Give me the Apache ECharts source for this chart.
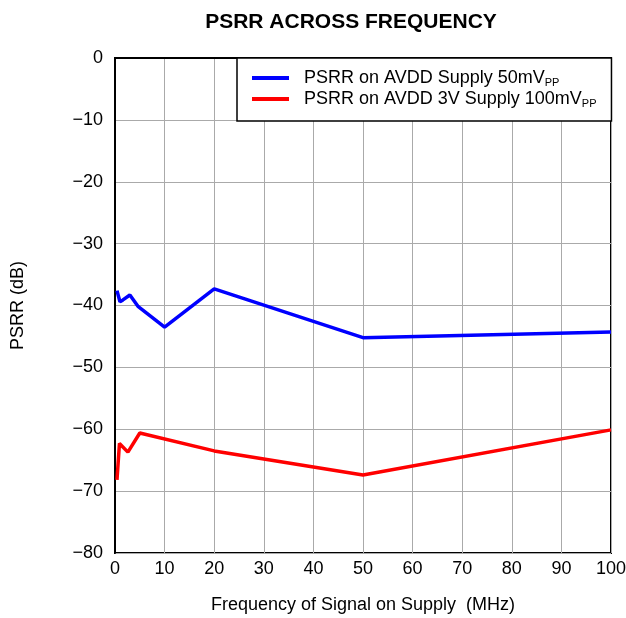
<!DOCTYPE html>
<html><head><meta charset="utf-8">
<script src="https://cdn.jsdelivr.net/npm/echarts@6/dist/echarts.min.js"></script>
<style>html,body{margin:0;padding:0;background:#fff}#c{width:626px;height:618px}</style>
</head><body><div id="c"></div>
<script>
const blueFreq = [0.4, 1.0, 1.6, 3.0, 4.7, 10, 20, 50, 100];
const blueDb   = [-37.6, -39.4, -39.1, -38.3, -40.2, -43.5, -37.3, -45.2, -44.3];
const redFreq  = [0.4, 0.9, 2.6, 5, 20, 50, 100];
const redDb    = [-68.2, -62.3, -63.7, -60.6, -63.5, -67.4, -60.1];
const seriesNames = ['PSRR on AVDD Supply 50mV', 'PSRR on AVDD 3V Supply 100mV'];
const fontFam = 'Liberation Sans, Arial, sans-serif';

const pairs = (xs, ys) => xs.map((x, i) => [x, ys[i]]);
const chart = echarts.init(document.getElementById('c'), null, {renderer: 'canvas'});
chart.setOption({
  animation: false,
  backgroundColor: '#fff',
  textStyle: {fontFamily: fontFam},
  title: {
    text: 'PSRR ACROSS FREQUENCY', left: 346, top: 7, textAlign: 'center',
    textStyle: {fontFamily: fontFam, fontWeight: 'bold', fontSize: 21, color: '#000'}
  },
  grid: {left: 115, right: 15, top: 58, bottom: 65, show: true, borderColor: '#000', borderWidth: 2,
         outerBoundsMode: 'none', containLabel: false},
  legend: {
    orient: 'vertical', left: 237, top: 58,
    backgroundColor: '#fff', borderColor: '#000', borderWidth: 1.5,
    padding: [11, 15, 12, 15], itemGap: 2,
    itemWidth: 37, itemHeight: 4, icon: 'rect',
    data: seriesNames,
    formatter: function (n) { return '{a|' + n + '}{s|PP}'; },
    textStyle: {
      fontFamily: fontFam, fontSize: 18, color: '#000', padding: [0, 0, 0, 10],
      rich: {
        a: {fontFamily: fontFam, fontSize: 18, color: '#000', height: 20},
        s: {fontFamily: fontFam, fontSize: 11, color: '#000', verticalAlign: 'bottom', padding: [8, 0, 0, 0]}
      }
    }
  },
  xAxis: {
    type: 'value', min: 0, max: 100, interval: 10,
    name: 'Frequency of Signal on Supply  (MHz)', nameLocation: 'middle', nameGap: 43,
    nameTextStyle: {fontFamily: fontFam, fontSize: 18, color: '#000'},
    axisLine: {show: true, lineStyle: {color: '#000', width: 2}},
    axisTick: {show: false},
    axisLabel: {fontFamily: fontFam, fontSize: 18, color: '#000', margin: 7},
    splitLine: {show: true, lineStyle: {color: '#aaa', width: 1}}
  },
  yAxis: {
    type: 'value', min: -80, max: 0, interval: 10,
    name: 'PSRR (dB)', nameLocation: 'middle', nameGap: 88, nameRotate: 90,
    nameTextStyle: {fontFamily: fontFam, fontSize: 18, color: '#000'},
    axisLine: {show: true, lineStyle: {color: '#000', width: 2}},
    axisTick: {show: false},
    axisLabel: {fontFamily: fontFam, fontSize: 18, color: '#000', margin: 12,
      formatter: v => v < 0 ? '\u2212' + Math.abs(v) : String(v)},
    splitLine: {show: true, lineStyle: {color: '#aaa', width: 1}}
  },
  series: [
    {name: seriesNames[0], type: 'line', data: pairs(blueFreq, blueDb), symbol: 'none',
     lineStyle: {color: '#0000ff', width: 3.5}, itemStyle: {color: '#0000ff'}, z: 3},
    {name: seriesNames[1], type: 'line', data: pairs(redFreq, redDb), symbol: 'none',
     lineStyle: {color: '#ff0000', width: 3.5}, itemStyle: {color: '#ff0000'}, z: 3}
  ]
});
</script></body></html>
